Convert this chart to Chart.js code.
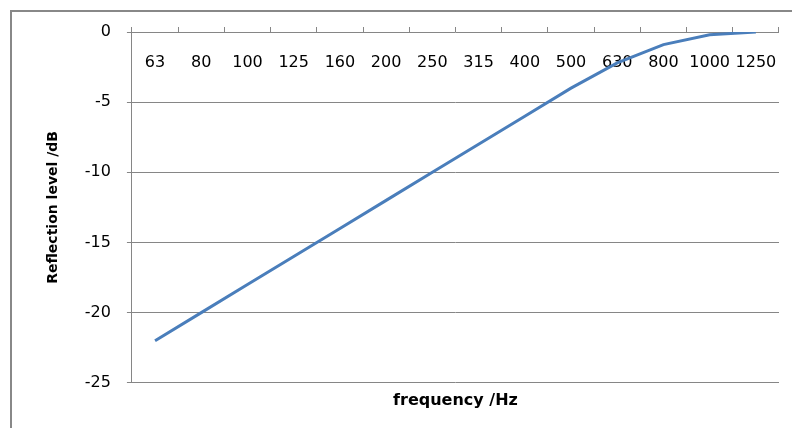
<!DOCTYPE html>
<html>
<head>
<meta charset="utf-8">
<script src="https://cdn.jsdelivr.net/npm/chart.js@4"></script>
<style>
  body { margin: 0; background: #fff; overflow: hidden; }
  #wrap { position: relative; width: 792px; height: 428px; overflow: hidden; }
  #frame { position: absolute; left: 10px; top: 10px; width: 1000px; height: 1000px;
           border-left: 2px solid #888; border-top: 2px solid #888; }
  #box { position: absolute; left: 0; top: 0; width: 792px; height: 428px; }
</style>
</head>
<body>
<div id="wrap">
  <div id="frame"></div>
  <div id="box"><canvas id="myChart"></canvas></div>
</div>
<script>
// frequencies (Hz) and reflection level (dB)
const frequency = ['63', '80', '100', '125', '160', '200', '250', '315', '400', '500', '630', '800', '1000', '1250'];
const reflection = [-22, -20, -18, -16, -14, -12, -10, -8, -6, -4, -2.2, -0.9, -0.2, 0];
const yMin = -25, yMax = 0, yStep = 5;

const gridColor = '#868686';
Chart.defaults.font.family = 'DejaVu Sans';
Chart.defaults.color = '#000';

// labels overhanging the plot should not push the plot area in
function noPad(scale) {
    scale.paddingLeft = 0;
    scale.paddingRight = 0;
    scale.paddingTop = 0;
    scale.paddingBottom = 0;
}

const ctx = document.getElementById('myChart');

new Chart(ctx, {
    type: 'line',
    data: {
        labels: frequency,
        datasets: [{
            label: 'Reflection level',
            data: reflection,
            borderColor: '#4A7EBB',
            borderWidth: 3,
            pointRadius: 0,
            tension: 0,
            fill: false
        }]
    },
    options: {
        responsive: true,
        maintainAspectRatio: false,
        animation: false,
        layout: { padding: { top: 32, right: 13, bottom: 14, left: 20 } },
        plugins: {
            legend: { display: false },
            tooltip: { enabled: false }
        },
        scales: {
            // bottom axis only carries the title
            x: {
                type: 'category',
                position: 'bottom',
                offset: true,
                grid: { display: false },
                border: { display: false },
                ticks: { display: false },
                afterFit: noPad,
                title: {
                    display: true,
                    text: 'frequency /Hz',
                    font: { size: 16, weight: 'bold' },
                    padding: { top: 0, bottom: 4 }
                }
            },
            // category labels sit just under the 0 dB line
            x2: {
                type: 'category',
                position: { y: 0 },
                offset: true,
                afterFit: noPad,
                grid: {
                    display: true,
                    offset: true,
                    drawOnChartArea: false,
                    drawTicks: true,
                    tickLength: -5,
                    color: gridColor
                },
                border: { display: false },
                ticks: {
                    padding: 26,
                    maxRotation: 0,
                    autoSkip: false,
                    font: { size: 16 }
                }
            },
            y: {
                min: yMin,
                max: yMax,
                afterFit: noPad,
                ticks: { stepSize: yStep, padding: 16, font: { size: 16 } },
                grid: { color: gridColor, tickLength: 5, lineWidth: 1 },
                border: { color: gridColor, width: 1 },
                title: {
                    display: true,
                    text: 'Reflection level /dB',
                    font: { size: 14, weight: 'bold' },
                    padding: { top: 25, bottom: 7 }
                }
            }
        }
    }
});
</script>
</body>
</html>
